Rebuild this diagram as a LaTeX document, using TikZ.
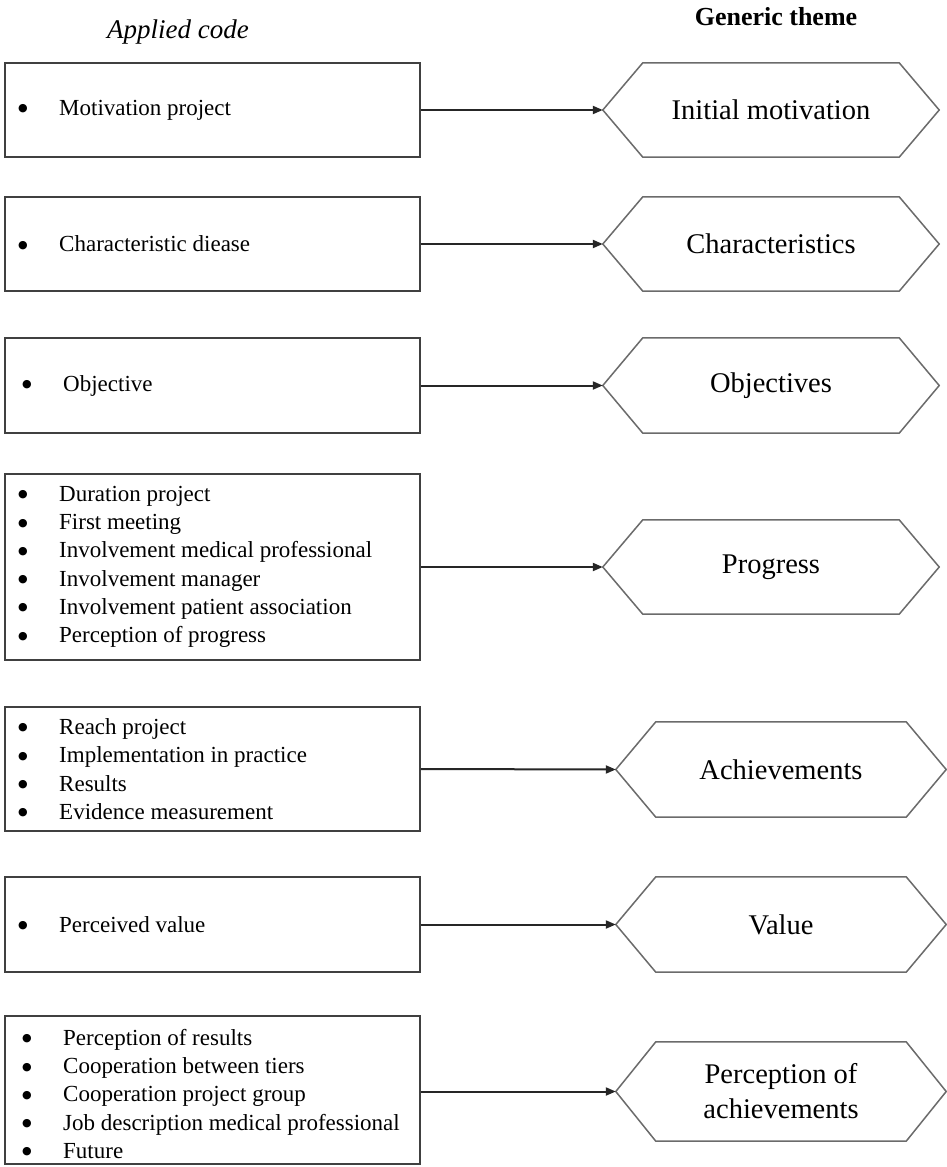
\documentclass[tikz,border=0pt]{standalone}
\usepackage{fontspec}
\setmainfont{Liberation Serif}
\newfontfamily\symfont{DejaVu Sans}
\usetikzlibrary{arrows.meta,calc}

% one bulleted entry of an applied code
\newcommand\codeitem[1]{\makebox[41pt][l]{\raisebox{3.6pt}{\symfont\fontsize{11}{11}\selectfont ●}}#1}
% hexagonal frame around a theme node (points at west and east)
\newcommand\hexoutline[1]{%
  \draw[hexline] (#1.west) -- ([xshift=40pt]#1.north west)
    -- ([xshift=-40pt]#1.north east) -- (#1.east)
    -- ([xshift=-40pt]#1.south east) -- ([xshift=40pt]#1.south west) -- cycle;}

\begin{document}
\begin{tikzpicture}[x=1pt,y=-1pt,
  codebox/.style={draw=black!75, line width=1.7pt, minimum width=415pt, inner sep=0pt},
  codetext/.style={anchor=west, inner sep=0pt, align=left,
    font=\fontsize{23}{28.3}\selectfont},
  theme/.style={inner sep=0pt, align=center, minimum width=336pt, minimum height=94pt,
    font=\fontsize{28.5}{35}\selectfont},
  hexline/.style={draw=black!58, line width=1.5pt, line join=miter},
  flow/.style={draw=black!85, line width=2pt, -{Triangle[length=10pt,width=8pt]}},
]
\fill[white] (0,0) rectangle (947,1167);
\useasboundingbox (0,0) rectangle (947,1167);

% column headings
\node[font=\itshape\fontsize{27}{32}\selectfont] (ac) at (178,32) {Applied code};
\node[font=\bfseries\fontsize{26}{30}\selectfont] (gt) at (776,17) {Generic theme};

% applied codes
\node[codebox, minimum height=94pt] (b1) at (212.5,110) {};
\node[codetext] (t1) at (18,110) {\codeitem{Motivation project}};

\node[codebox, minimum height=94pt] (b2) at (212.5,244) {};
\node[codetext] (t2) at (18,244) {\codeitem{Characteristic diease}};

\node[codebox, minimum height=95pt] (b3) at (212.5,385.5) {};
\node[codetext] (t3) at (22,385.5) {\codeitem{Objective}};

\node[codebox, minimum height=186pt] (b4) at (212.5,567) {};
\node[codetext] (t4) at (18,567) {\codeitem{Duration project}\\
  \codeitem{First meeting}\\
  \codeitem{Involvement medical professional}\\
  \codeitem{Involvement manager}\\
  \codeitem{Involvement patient association}\\
  \codeitem{Perception of progress}};

\node[codebox, minimum height=124pt] (b5) at (212.5,769) {};
\node[codetext] (t5) at (18,769) {\codeitem{Reach project}\\
  \codeitem{Implementation in practice}\\
  \codeitem{Results}\\
  \codeitem{Evidence measurement}};

\node[codebox, minimum height=95pt] (b6) at (212.5,924.5) {};
\node[codetext] (t6) at (18,924.5) {\codeitem{Perceived value}};

\node[codebox, minimum height=148pt] (b7) at (212.5,1090) {};
\node[codetext] (t7) at (22,1094) {\codeitem{Perception of results}\\
  \codeitem{Cooperation between tiers}\\
  \codeitem{Cooperation project group}\\
  \codeitem{Job description medical professional}\\
  \codeitem{Future}};

% generic themes
\node[theme] (h1) at (771,110) {Initial motivation};
\node[theme] (h2) at (771,244) {Characteristics};
\node[theme, minimum height=95pt] (h3) at (771,385.5) {Objectives};
\node[theme] (h4) at (771,567) {Progress};
\node[theme, minimum width=330pt, minimum height=95pt] (h5) at (781,769.5) {Achievements};
\node[theme, minimum width=330pt, minimum height=95pt] (h6) at (781,924.5) {Value};
\node[theme, minimum width=330pt, minimum height=99pt] (h7) at (781,1091.5) {Perception of\\achievements};
\foreach \h in {h1,h2,h3,h4,h5,h6,h7} {\hexoutline{\h}}

% codes feed their themes
\foreach \i in {1,...,6} {\draw[flow] (b\i.east) -- (h\i.west);}
\draw[flow] (b7.east |- h7.west) -- (h7.west);
\end{tikzpicture}
\end{document}
